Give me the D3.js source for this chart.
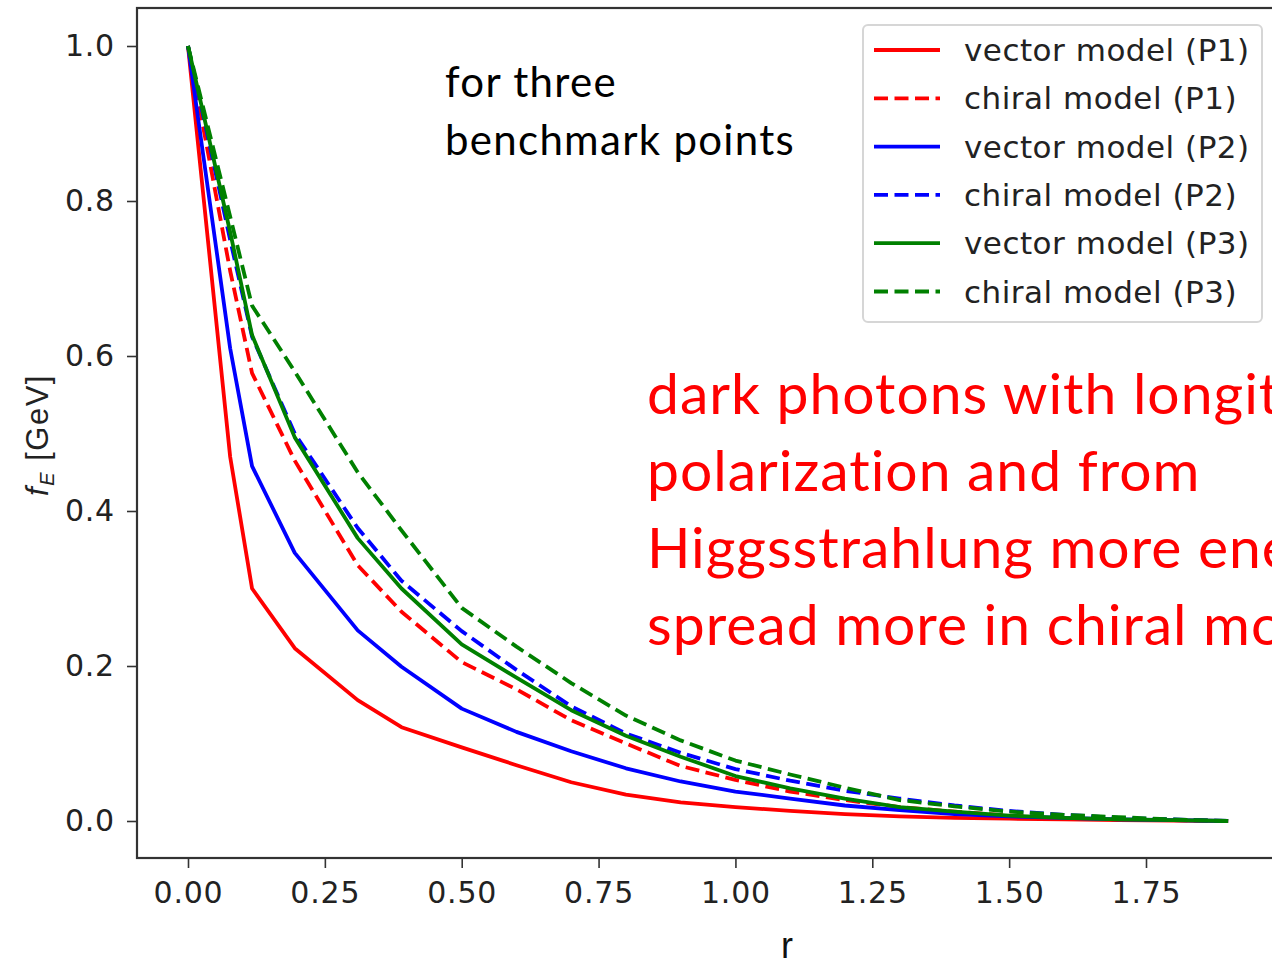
<!DOCTYPE html>
<html>
<head>
<meta charset="utf-8">
<script src="https://cdn.jsdelivr.net/npm/d3@7"></script>
<style>
  body { margin: 0; background: #fff; overflow: hidden; }
  svg { display: block; }
</style>
</head>
<body>
<div id="chart"></div>
<script>
// r grid shared by all curves
var rValues = [0, 0.077, 0.117, 0.195, 0.31, 0.39, 0.5, 0.6, 0.7, 0.8, 0.9, 1.0, 1.1, 1.2, 1.3, 1.4, 1.5, 1.6, 1.7, 1.8, 1.9];

var vectorP1 = [1.0, 0.47, 0.30, 0.223, 0.156, 0.121, 0.095, 0.072, 0.050, 0.034, 0.024, 0.018, 0.013, 0.009, 0.006, 0.004, 0.003, 0.002, 0.001, 0.0005, 0];
var chiralP1 = [1.0, 0.71, 0.578, 0.465, 0.33, 0.27, 0.205, 0.17, 0.13, 0.100, 0.071, 0.053, 0.038, 0.027, 0.018, 0.012, 0.007, 0.004, 0.002, 0.001, 0];
var vectorP2 = [1.0, 0.61, 0.458, 0.346, 0.246, 0.199, 0.145, 0.115, 0.090, 0.068, 0.051, 0.038, 0.029, 0.020, 0.014, 0.009, 0.006, 0.004, 0.002, 0.001, 0];
var chiralP2 = [1.0, 0.75, 0.625, 0.50, 0.378, 0.31, 0.245, 0.195, 0.148, 0.113, 0.088, 0.067, 0.052, 0.039, 0.029, 0.020, 0.013, 0.008, 0.004, 0.002, 0];
var vectorP3 = [1.0, 0.76, 0.627, 0.495, 0.365, 0.30, 0.228, 0.185, 0.143, 0.110, 0.083, 0.058, 0.042, 0.029, 0.018, 0.012, 0.007, 0.004, 0.002, 0.001, 0];
var chiralP3 = [1.0, 0.78, 0.665, 0.58, 0.45, 0.375, 0.275, 0.225, 0.178, 0.136, 0.104, 0.078, 0.060, 0.043, 0.027, 0.019, 0.012, 0.008, 0.005, 0.002, 0];

var seriesNames = ["vector model (P1)", "chiral model (P1)", "vector model (P2)", "chiral model (P2)", "vector model (P3)", "chiral model (P3)"];
var seriesValues = [vectorP1, chiralP1, vectorP2, chiralP2, vectorP3, chiralP3];
var seriesColors = ["#ff0000", "#ff0000", "#0000ff", "#0000ff", "#008000", "#008000"];
var seriesDashed = [false, true, false, true, false, true];

var xTicks = [0, 0.25, 0.5, 0.75, 1.0, 1.25, 1.5, 1.75];
var yTicks = [0, 0.2, 0.4, 0.6, 0.8, 1.0];

var noteLines = ["for three", "benchmark points"];
var redLines = ["dark photons with longitudinal", "polarization and from", "Higgsstrahlung more energy", "spread more in chiral model"];

var w = 1272, h = 961;
var frame = { left: 137, top: 8, bottom: 858, right: 1290 };

var svg = d3.select("#chart").append("svg")
    .attr("width", w)
    .attr("height", h);

var xScale = d3.scaleLinear().domain([0, 1.75]).range([188, 1146]);
var yScale = d3.scaleLinear().domain([0, 1]).range([821, 46]);

var tickFont = "'DejaVu Sans', sans-serif";

// axes
var xAxis = d3.axisBottom(xScale).tickValues(xTicks).tickFormat(d3.format(".2f")).tickSize(10).tickPadding(14);
var yAxis = d3.axisLeft(yScale).tickValues(yTicks).tickFormat(d3.format(".1f")).tickSize(10).tickPadding(12);

var gx = svg.append("g")
    .attr("transform", "translate(0," + frame.bottom + ")")
    .call(xAxis);
var gy = svg.append("g")
    .attr("transform", "translate(" + frame.left + ",0)")
    .call(yAxis);

[gx, gy].forEach(function(g) {
  g.select(".domain").remove();
  g.selectAll(".tick line").attr("stroke", "#333").attr("stroke-width", 1.6);
  g.selectAll(".tick text")
    .attr("fill", "#222")
    .style("font-family", tickFont)
    .style("font-size", "30px")
    .style("letter-spacing", "0.8px");
});

// curves
var line = d3.line()
    .x(function(d) { return xScale(d[0]); })
    .y(function(d) { return yScale(d[1]); });

seriesValues.forEach(function(vals, i) {
  var pts = rValues.map(function(r, j) { return [r, vals[j]]; });
  svg.append("path")
    .datum(pts)
    .attr("fill", "none")
    .attr("stroke", seriesColors[i])
    .attr("stroke-width", 3.8)
    .attr("stroke-linejoin", "round")
    .attr("stroke-dasharray", seriesDashed[i] ? "14,6.5" : null)
    .attr("d", line);
});

// frame
svg.append("rect")
    .attr("x", frame.left)
    .attr("y", frame.top)
    .attr("width", frame.right - frame.left)
    .attr("height", frame.bottom - frame.top)
    .attr("fill", "none")
    .attr("stroke", "#333")
    .attr("stroke-width", 2.2);

// axis labels
svg.append("text")
    .attr("x", 787)
    .attr("y", 958)
    .attr("text-anchor", "middle")
    .style("font-family", "'Liberation Sans', sans-serif")
    .style("font-size", "36px")
    .attr("fill", "#111")
    .text("r");

var ylab = svg.append("text")
    .attr("transform", "translate(48,435) rotate(-90)")
    .attr("text-anchor", "middle")
    .style("font-family", "'Liberation Sans', sans-serif")
    .style("font-size", "31px")
    .style("letter-spacing", "1.5px")
    .attr("fill", "#222");
ylab.append("tspan").style("font-style", "italic").text("f");
ylab.append("tspan").attr("dy", 6).style("font-size", "20px").style("font-style", "italic").text("E");
ylab.append("tspan").attr("dy", -6).text(" [GeV]");

// legend
var legend = svg.append("g");
legend.append("rect")
    .attr("x", 863).attr("y", 25)
    .attr("width", 399).attr("height", 297)
    .attr("rx", 5)
    .attr("fill", "#fff")
    .attr("stroke", "#d6d6d6")
    .attr("stroke-width", 2);

seriesNames.forEach(function(name, i) {
  var yy = 50 + i * 48.3;
  legend.append("line")
    .attr("x1", 874).attr("x2", 940)
    .attr("y1", yy).attr("y2", yy)
    .attr("stroke", seriesColors[i])
    .attr("stroke-width", 3.8)
    .attr("stroke-dasharray", seriesDashed[i] ? "14,6.5" : null);
  legend.append("text")
    .attr("x", 964)
    .attr("y", yy + 11)
    .style("font-family", tickFont)
    .style("font-size", "31px")
    .style("letter-spacing", "0.5px")
    .attr("fill", "#222")
    .text(name);
});

// annotations
noteLines.forEach(function(t, i) {
  svg.append("text")
    .attr("x", 445)
    .attr("y", 97 + i * 58)
    .style("font-family", "Lato, 'Open Sans', sans-serif")
    .style("font-size", "42px")
    .style("letter-spacing", "1.3px")
    .attr("fill", "#000")
    .text(t);
});

redLines.forEach(function(t, i) {
  svg.append("text")
    .attr("x", 647)
    .attr("y", 414 + i * 77)
    .style("font-family", "Lato, 'Open Sans', sans-serif")
    .style("font-size", "57px")
    .style("letter-spacing", "1px")
    .attr("fill", "#ff0000")
    .text(t);
});
</script>
</body>
</html>
